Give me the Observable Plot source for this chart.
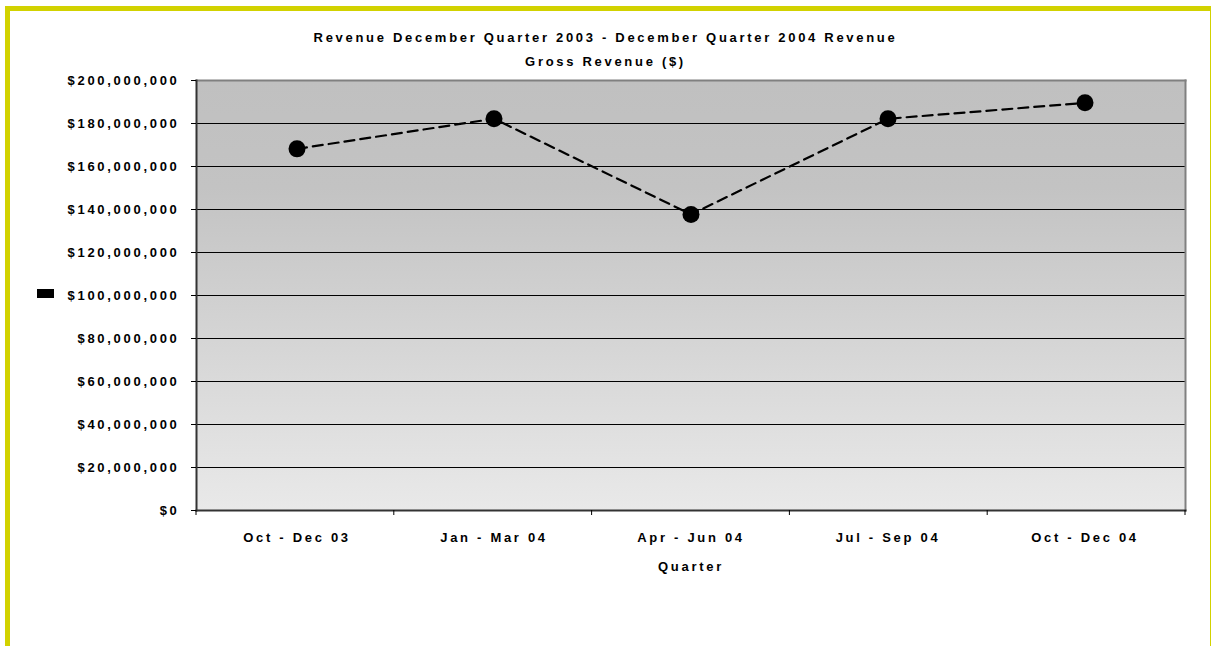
<!DOCTYPE html>
<html>
<head>
<meta charset="utf-8">
<script src="https://cdn.jsdelivr.net/npm/d3@7"></script>
<script src="https://cdn.jsdelivr.net/npm/@observablehq/plot@0.6"></script>
<style>
  html, body { margin: 0; padding: 0; background: #fff; overflow: hidden; }
  #wrap { position: relative; width: 1211px; height: 646px; overflow: hidden; background: #fff;
          font-family: "Liberation Sans", Arial, sans-serif; color: #000; }
  #head { height: 70px; box-sizing: border-box; padding-top: 26px; text-align: center;
          font-size: 13px; font-weight: bold; line-height: 24px; letter-spacing: 2.7px; }
  #head div { white-space: nowrap; }
  #borderL { position: absolute; left: 5px; top: 6px; width: 5px; height: 640px; background: #d2d200; }
  #borderT { position: absolute; left: 5px; top: 6px; width: 1210px; height: 5px; background: #d2d200; }
  #borderR { position: absolute; left: 1210px; top: 6px; width: 1px; height: 640px; background: #d2d200; }
  #legendKey { position: absolute; left: 37px; top: 289px; width: 17px; height: 9px; background: #000; }
  #chart svg { display: block; }
</style>
</head>
<body>
<div id="wrap">
  <div id="head"><div id="title"></div><div id="subtitle"></div></div>
  <div id="chart"></div>
  <div id="legendKey"></div>
  <div id="borderL"></div>
  <div id="borderT"></div>
  <div id="borderR"></div>
</div>
<script>
// ---- data ----
const quarters = ["Oct - Dec 03", "Jan - Mar 04", "Apr - Jun 04", "Jul - Sep 04", "Oct - Dec 04"];
const revenue = [168200000, 182200000, 137700000, 182200000, 189600000];
const yTicks = [0, 20000000, 40000000, 60000000, 80000000, 100000000, 120000000, 140000000, 160000000, 180000000, 200000000];
const titleText = "Revenue December Quarter 2003 - December Quarter 2004 Revenue";
const subtitleText = "Gross Revenue ($)";
const xLabel = "Quarter";

const data = quarters.map((q, i) => ({quarter: q, revenue: revenue[i]}));

document.getElementById("title").textContent = titleText;
document.getElementById("subtitle").textContent = subtitleText;

// tick marks at the category band boundaries, derived from the frame dimensions
const bandTicks = (index, scales, values, dims) => {
  const n = quarters.length;
  const x0 = dims.marginLeft, x1 = dims.width - dims.marginRight;
  const yb = dims.height - dims.marginBottom;
  const g = d3.create("svg:g").attr("stroke", "#000").attr("stroke-width", 1);
  for (let i = 0; i <= n; i++) {
    const x = x0 + (x1 - x0) * i / n;
    g.append("line").attr("x1", x).attr("x2", x).attr("y1", yb).attr("y2", yb + 5);
  }
  return g.node();
};

const chart = Plot.plot({
  width: 1211,
  height: 576,
  marginLeft: 196,
  marginRight: 26,
  marginTop: 10,
  marginBottom: 136,
  style: {fontFamily: '"Liberation Sans", Arial, sans-serif', fontSize: "13px", fontWeight: "bold",
          color: "#000", background: "transparent", overflow: "visible"},
  x: {type: "band", domain: quarters, padding: 0, label: null},
  y: {domain: [0, 200000000], label: null},
  marks: [
    Plot.frame({fill: "url(#bgGrad)", stroke: null}),
    Plot.gridY(yTicks, {stroke: "#000", strokeOpacity: 1, strokeWidth: 1}),
    Plot.frame({anchor: "top", stroke: "#808080", strokeWidth: 2}),
    Plot.frame({anchor: "right", stroke: "#808080", strokeWidth: 2}),
    Plot.frame({anchor: "left", stroke: "#333", strokeWidth: 2}),
    Plot.frame({anchor: "bottom", stroke: "#333", strokeWidth: 2}),
    Plot.axisY({ticks: yTicks, tickFormat: d3.format("$,"), tickSize: 5, tickPadding: 12, label: null, stroke: "#000"}),
    Plot.axisX({tickSize: 0, tickPadding: 22, label: null}),
    bandTicks,
    Plot.text([xLabel], {frameAnchor: "bottom", dy: 60, fontWeight: "bold", fill: "#000"}),
    Plot.line(data, {x: "quarter", y: "revenue", stroke: "#000", strokeWidth: 2.2,
                     strokeDasharray: "10,6", curve: "linear"}),
    Plot.dot(data, {x: "quarter", y: "revenue", r: 8.5, fill: "#000", stroke: null})
  ]
});

const svg = d3.select(chart);
svg.insert("defs", ":first-child").html(
  '<linearGradient id="bgGrad" x1="0" y1="0" x2="0" y2="1">' +
  '<stop offset="0" stop-color="#c0c0c0"/>' +
  '<stop offset="0.25" stop-color="#c3c3c3"/>' +
  '<stop offset="1" stop-color="#e9e9e9"/>' +
  '</linearGradient>');
svg.selectAll("text").style("letter-spacing", "2.7px");

document.getElementById("chart").appendChild(chart);
</script>
</body>
</html>
